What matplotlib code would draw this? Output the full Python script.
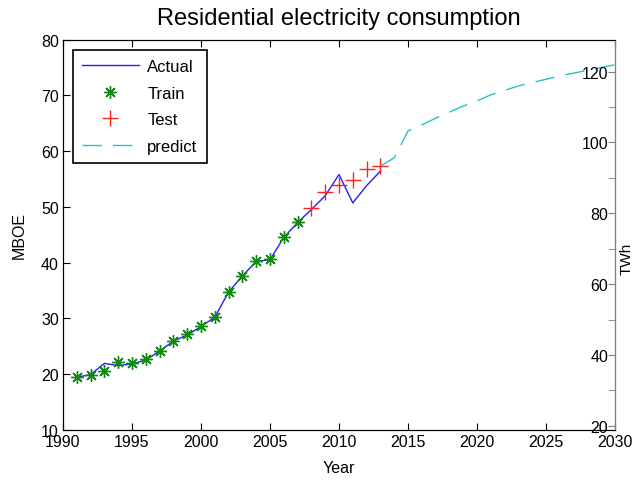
import matplotlib
matplotlib.use('Agg')
import matplotlib.pyplot as plt
from matplotlib.ticker import MultipleLocator

plt.rcParams['font.family'] = ['Liberation Sans', 'DejaVu Sans']

# data (MBOE)
years = list(range(1991, 2014))
actual = [19.4, 19.9, 21.9, 21.5, 21.8, 22.5, 24.1, 25.9, 27.0, 28.5, 30.2, 34.7,
          37.6, 40.2, 40.5, 44.5, 47.2, 49.5, 52.0, 55.8, 50.7, 53.8, 56.4]
train_years = list(range(1991, 2008))
train = [19.5, 19.9, 20.6, 22.2, 21.9, 22.7, 24.1, 25.9, 27.1, 28.6, 30.2, 34.7,
         37.6, 40.2, 40.6, 44.5, 47.2]
test_years = list(range(2008, 2014))
test = [49.8, 52.6, 54.0, 54.9, 56.8, 57.3]
pred_years = list(range(2013, 2031))
pred = [57.3, 58.8, 63.6, 64.7, 65.9, 67.0, 68.1, 69.0, 70.1, 70.9, 71.7, 72.3,
        72.9, 73.5, 74.0, 74.5, 75.0, 75.5]

fig = plt.figure(figsize=(6.35, 4.81), dpi=100)
ax = fig.add_axes([0.0992, 0.1046, 0.8693, 0.8108])

ax.plot(years, actual, color='#2020ff', lw=1, label='Actual')
ax.plot(train_years, train, ls='none', marker=(8, 2, 0), ms=9, mew=1.0,
        color='#108a10', label='Train')
ax.plot(test_years, test, ls='none', marker='+', ms=11, mew=1.0,
        color='#ff2020', label='Test')
ax.plot(pred_years, pred, color='#20c4c8', lw=1, dashes=(14, 8), label='predict')

ax.set_xlim(1990, 2030)
ax.set_ylim(10, 80)
ax.set_xticks(range(1990, 2031, 5))
ax.set_yticks(range(10, 81, 10))
ax.tick_params(direction='in', top=True, labelsize=11.5, length=5, width=0.8, pad=3)
ax.set_xlabel('Year', fontsize=11.5, labelpad=8)
ax.set_ylabel('MBOE', fontsize=11.5, labelpad=10)
ax.set_title('Residential electricity consumption', fontsize=17, pad=11)

leg = ax.legend(loc='upper left', fontsize=12, fancybox=False, framealpha=1,
                edgecolor='black', handlelength=3.4, handletextpad=0.5,
                labelspacing=0.7, borderpad=0.55, borderaxespad=0.6)
leg.get_frame().set_linewidth(1.2)

# second scale in TWh
ax2 = ax.twinx()
ax2.set_ylim(18.9, 129.0)
ax2.set_yticks(range(20, 121, 20))
ax2.yaxis.set_minor_locator(MultipleLocator(10))
ax2.tick_params(axis='y', which='both', direction='in', colors='#808080',
                labelcolor='black', labelsize=11.5, length=5, pad=-5)
for lbl in ax2.get_yticklabels():
    lbl.set_horizontalalignment('right')
ax2.spines['right'].set_color('#808080')
ax2.set_ylabel('TWh', fontsize=11)
ax2.yaxis.set_label_coords(1.008, 0.44)

fig.savefig('out.png', dpi=100)
